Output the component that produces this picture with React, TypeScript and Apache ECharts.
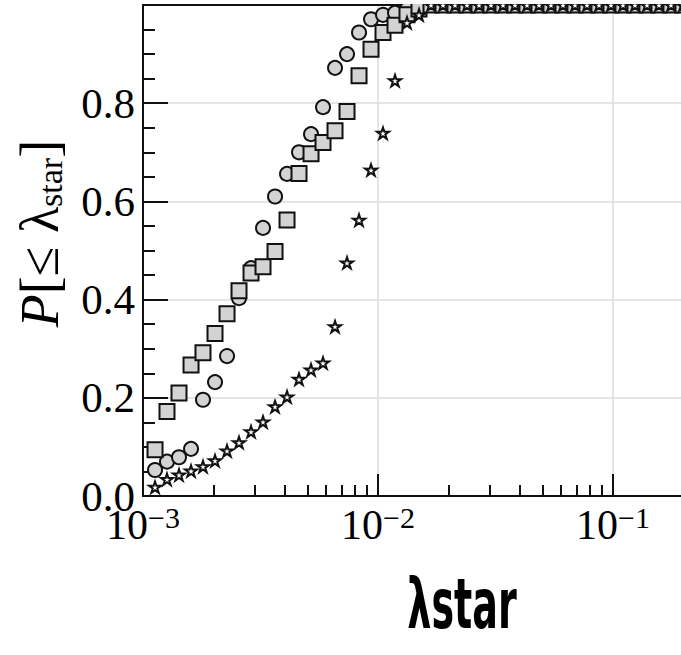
import React, { useEffect, useRef } from "react";
import * as echarts from "echarts";

// lambda_star grid (x values where the CDFs are evaluated)
const lambdaGrid = [
  0.001125, 0.001265, 0.001423, 0.001601, 0.0018, 0.002025, 0.002278, 0.002562,
  0.002882, 0.003241, 0.003646, 0.004101, 0.004612, 0.005188, 0.005835, 0.006563,
  0.007382, 0.008303, 0.009339, 0.010503, 0.011814, 0.013288, 0.014946, 0.01681,
  0.018907, 0.021266, 0.023918, 0.026902, 0.030258, 0.034033, 0.038279, 0.043053,
  0.048425, 0.054465, 0.061259, 0.068901, 0.077497, 0.087164, 0.098038, 0.110268,
  0.124023, 0.139494, 0.156896, 0.176468, 0.198482,
];

const circleValues = [
  0.053, 0.07, 0.079, 0.096, 0.196, 0.232, 0.285, 0.403, 0.464, 0.546, 0.61, 0.656,
  0.7, 0.737, 0.792, 0.872, 0.9, 0.944, 0.971, 0.98, 0.984, 0.992, 1, 1,
  1, 1, 1, 1, 1, 1, 1, 1, 1, 1, 1, 1,
  1, 1, 1, 1, 1, 1, 1, 1, 1,
];

const squareValues = [
  0.094, 0.172, 0.21, 0.267, 0.292, 0.331, 0.371, 0.418, 0.454, 0.467, 0.498, 0.562,
  0.657, 0.697, 0.72, 0.744, 0.783, 0.856, 0.91, 0.944, 0.959, 0.98, 0.992, 1,
  1, 1, 1, 1, 1, 1, 1, 1, 1, 1, 1, 1,
  1, 1, 1, 1, 1, 1, 1, 1, 1,
];

const starValues = [
  0.018, 0.034, 0.043, 0.051, 0.06, 0.072, 0.092, 0.109, 0.131, 0.151, 0.182, 0.202,
  0.238, 0.257, 0.271, 0.345, 0.475, 0.562, 0.664, 0.739, 0.846, 0.964, 0.98, 1,
  1, 1, 1, 1, 1, 1, 1, 1, 1, 1, 1, 1,
  1, 1, 1, 1, 1, 1, 1, 1, 1,
];

const yTicks = [0, 0.2, 0.4, 0.6, 0.8];
const xDecadeLabels: Record<string, string> = { "0.001": "−3", "0.01": "−2", "0.1": "−1" };
const xTitle = "λstar";

const STAR_PATH =
  "path://M0,-1 L0.2234,-0.3074 L0.951,-0.309 L0.3614,0.1174 L0.588,0.809 L0,0.38 L-0.588,0.809 L-0.3614,0.1174 L-0.951,-0.309 L-0.2234,-0.3074 Z";

const pairs = (ys: number[]) => ys.map((y, i) => [lambdaGrid[i], y]);

// The figure is cropped on the right: the plot continues past the window edge
const CHART_W = 848;
const CHART_H = 655;

export default function App() {
  const ref = useRef<HTMLDivElement>(null);
  useEffect(() => {
    if (!ref.current) return;
    const chart = echarts.init(ref.current, null, { renderer: "svg" });
    const serif = "'Liberation Serif', 'DejaVu Serif', serif";
    const tickColor = "#111";
    chart.setOption({
      animation: false,
      backgroundColor: "#ffffff",
      grid: { left: 143, top: 5, right: 0, bottom: 159, containLabel: false, outerBoundsMode: "none" },
      xAxis: [
        {
          type: "log",
          logBase: 10,
          min: 0.001,
          max: 1,
          position: "bottom",
          axisLine: { show: true, lineStyle: { color: tickColor, width: 2 } },
          axisTick: { show: true, inside: true, length: 22, lineStyle: { color: tickColor, width: 2 } },
          minorTick: { show: true, splitNumber: 9, length: 11, lineStyle: { color: tickColor, width: 2 } },
          splitLine: { show: true, lineStyle: { color: "#dddddd", width: 1.5 } },
          axisLabel: {
            margin: 6,
            hideOverlap: false,
            formatter: (v: number) => {
              const e = xDecadeLabels[String(v)];
              return e ? "{b|10}{s|" + e + "}" : "";
            },
            rich: {
              b: { fontFamily: serif, fontSize: 42, color: "#000", verticalAlign: "bottom", lineHeight: 44 },
              s: { fontFamily: serif, fontSize: 30, color: "#000", verticalAlign: "top", lineHeight: 30 },
            },
          },
        },
        {
          type: "log",
          logBase: 10,
          min: 0.001,
          max: 1,
          position: "top",
          axisLine: { show: true, lineStyle: { color: tickColor, width: 2 } },
          axisTick: { show: false },
          axisLabel: { show: false },
          splitLine: { show: false },
        },
      ],
      yAxis: {
        type: "value",
        min: 0,
        max: 1,
        interval: 0.2,
        name: "{i|P}{n|[≤ λ}{sub|star}{n|]}",
        nameLocation: "middle",
        nameRotate: 90,
        nameGap: 76,
        nameTextStyle: {
          padding: [0, 0, 0, 34],
          rich: {
            i: { fontFamily: serif, fontStyle: "italic", fontSize: 54, color: "#000" },
            n: { fontFamily: serif, fontSize: 54, color: "#000" },
            sub: { fontFamily: serif, fontSize: 34, color: "#000", padding: [20, 0, 0, 0] },
          },
        },
        axisLine: { show: true, lineStyle: { color: tickColor, width: 2 } },
        axisTick: { show: true, inside: true, length: 25, lineStyle: { color: tickColor, width: 2 } },
        minorTick: { show: true, splitNumber: 4, length: 12, lineStyle: { color: tickColor, width: 2 } },
        splitLine: { show: true, lineStyle: { color: "#dddddd", width: 1.5 } },
        axisLabel: {
          margin: 8,
          fontFamily: serif,
          fontSize: 43,
          color: "#000",
          formatter: (v: number) => (yTicks.some((t) => Math.abs(t - v) < 1e-9) ? v.toFixed(1) : ""),
        },
      },
      series: [
        {
          type: "scatter",
          name: "circles",
          data: pairs(circleValues),
          symbol: "circle",
          symbolSize: 14,
          itemStyle: { color: "#d3d3d3", borderColor: "#111", borderWidth: 2, opacity: 1 },
          z: 3,
        },
        {
          type: "scatter",
          name: "squares",
          data: pairs(squareValues),
          symbol: "rect",
          symbolSize: 15,
          itemStyle: { color: "#d3d3d3", borderColor: "#111", borderWidth: 2, opacity: 1 },
          z: 4,
        },
        {
          type: "scatter",
          name: "stars",
          data: pairs(starValues),
          symbol: STAR_PATH,
          symbolKeepAspect: true,
          symbolSize: 12,
          itemStyle: { color: "#ffffff", borderColor: "#111", borderWidth: 2, opacity: 1 },
          z: 5,
        },
      ],
      graphic: [
        {
          type: "rect",
          left: 0,
          top: 0,
          shape: { x: 0, y: 0, width: CHART_W, height: 4 },
          style: { fill: "#ffffff" },
          z: 100,
          silent: true,
        },
        {
          type: "text",
          x: 462,
          y: 604,
          scaleX: 0.92,
          scaleY: 1.5,
          style: {
            text: xTitle,
            x: 0,
            y: 0,
            textAlign: "center",
            textVerticalAlign: "middle",
            fontFamily: "'DejaVu Sans Condensed', 'DejaVu Sans', sans-serif",
            fontWeight: "bold",
            fontSize: 46,
            fill: "#000",
          },
          z: 50,
        },
      ],
    });
    return () => chart.dispose();
  }, []);
  return (
    <div style={{ position: "fixed", left: 0, top: 0, width: 681, height: 655, overflow: "hidden", background: "#fff" }}>
      <div ref={ref} style={{ width: CHART_W, height: CHART_H, background: "#fff" }} />
    </div>
  );
}
